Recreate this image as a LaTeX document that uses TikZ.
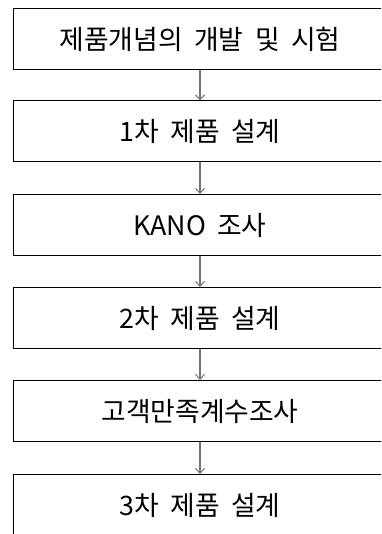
\documentclass[tikz,border=0pt]{standalone}
\usepackage{fontspec}
\setmainfont[WordSpace=1.9]{Noto Sans CJK KR}
\usetikzlibrary{arrows.meta}
\begin{document}
\begin{tikzpicture}[x=1pt,y=-1pt,
  stepbox/.style={draw=black,line width=1pt,rectangle,minimum width=374pt,minimum height=61pt,inner sep=0pt,font=\fontsize{26.8}{30}\selectfont,anchor=north},
  flow/.style={draw=black!55,line width=1.3pt,-{Straight Barb[length=5pt,width=9pt,line width=1pt]}}]
\useasboundingbox (0,0) rectangle (381,534);
\clip (0,0) rectangle (381,534);
\node[stepbox] (b1) at (200,8.5) {제품개념의 개발 및 시험};
\node[stepbox] (b2) at (200,100.5) {1차 제품 설계};
\node[stepbox] (b3) at (200,194) {KANO 조사};
\node[stepbox] (b4) at (200,287) {2차 제품 설계};
\node[stepbox] (b5) at (200,380) {고객만족계수조사};
\node[stepbox,minimum height=62pt] (b6) at (200,474) {3차 제품 설계};
\draw[flow] (b1.south) -- (b2.north);
\draw[flow] (b2.south) -- (b3.north);
\draw[flow] (b3.south) -- (b4.north);
\draw[flow] (b4.south) -- (b5.north);
\draw[flow] (b5.south) -- (b6.north);
\end{tikzpicture}
\end{document}
